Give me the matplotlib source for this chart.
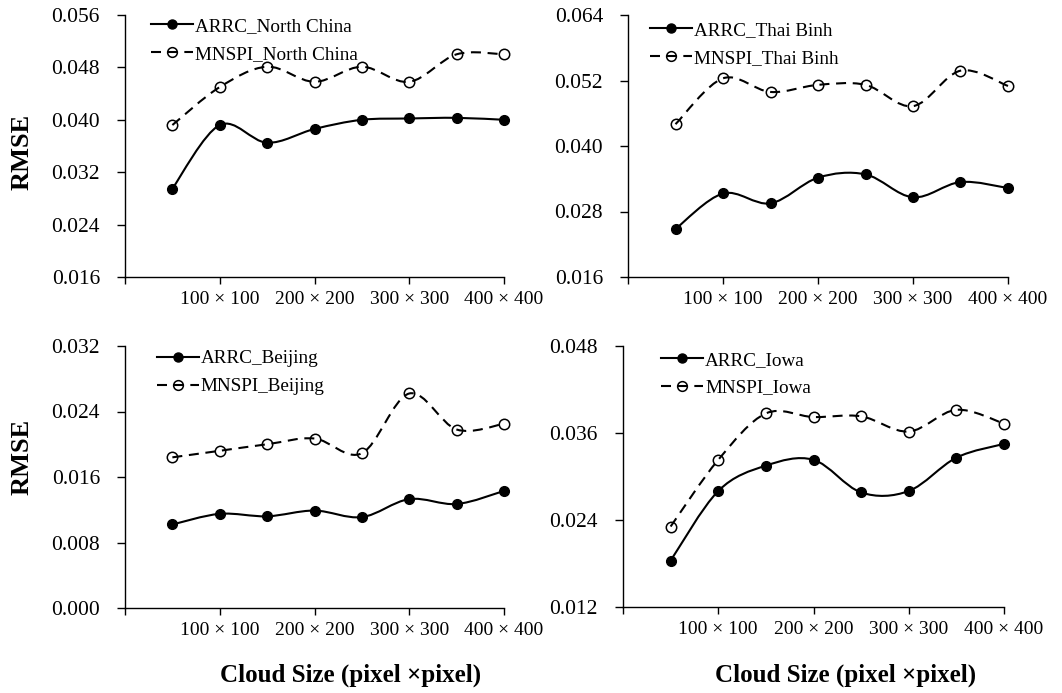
import numpy as np
import matplotlib.pyplot as plt
from matplotlib.path import Path
from matplotlib.patches import PathPatch
from matplotlib.lines import Line2D

plt.rcParams['font.family'] = ['Liberation Serif', 'DejaVu Serif']

sizes = [50, 100, 150, 200, 250, 300, 350, 400]
tick_pos = [0, 100, 200, 300, 400]
tick_labels = ['', '100 × 100', '200 × 200', '300 × 300', '400 × 400']

arrc_north = [0.0295, 0.0392, 0.0365, 0.0386, 0.0400, 0.0402, 0.0403, 0.0400]
mnspi_north = [0.0392, 0.0450, 0.0481, 0.0458, 0.0481, 0.0458, 0.0500, 0.0500]
arrc_thai = [0.0248, 0.0313, 0.0295, 0.0342, 0.0348, 0.0306, 0.0334, 0.0323]
mnspi_thai = [0.0440, 0.0524, 0.0499, 0.0512, 0.0512, 0.0473, 0.0538, 0.0510]
arrc_beijing = [0.0102, 0.0115, 0.0112, 0.0119, 0.0111, 0.0133, 0.0127, 0.0143]
mnspi_beijing = [0.0184, 0.0192, 0.0200, 0.0207, 0.0189, 0.0262, 0.0218, 0.0225]
arrc_iowa = [0.0184, 0.0280, 0.0315, 0.0323, 0.0278, 0.0280, 0.0326, 0.0345]
mnspi_iowa = [0.0231, 0.0323, 0.0387, 0.0382, 0.0383, 0.0362, 0.0392, 0.0373]

regions = ['North China', 'Thai Binh', 'Beijing', 'Iowa']
arrc_all = [arrc_north, arrc_thai, arrc_beijing, arrc_iowa]
mnspi_all = [mnspi_north, mnspi_thai, mnspi_beijing, mnspi_iowa]
yticks_all = [[0.016, 0.024, 0.032, 0.040, 0.048, 0.056],
              [0.016, 0.028, 0.040, 0.052, 0.064],
              [0.000, 0.008, 0.016, 0.024, 0.032],
              [0.012, 0.024, 0.036, 0.048]]

# axes boxes in pixels: left, top, right, bottom
W, H = 1062, 693
boxes = [(125, 15, 504, 277), (628, 15, 1008, 277),
         (125, 346, 504, 608), (623, 346, 1004, 607)]
leg_anchor = [(0.068, 0.99), (0.058, 0.975), (0.084, 0.985), (0.10, 0.98)]


def smooth_path(x, y):
    # excel-like smoothed line through the points
    pts = np.column_stack([x, y])
    n = len(pts)
    verts = [pts[0]]
    codes = [Path.MOVETO]
    for i in range(n - 1):
        p0 = pts[max(i - 1, 0)]
        p1 = pts[i]
        p2 = pts[i + 1]
        p3 = pts[min(i + 2, n - 1)]
        verts += [p1 + (p2 - p0) / 6, p2 - (p3 - p1) / 6, p2]
        codes += [Path.CURVE4] * 3
    return Path(verts, codes)


dash = (0, (4.8, 3.2))
lw = 1.5

fig = plt.figure(figsize=(W / 100, H / 100), dpi=100)
for k in range(4):
    l, t, r, b = boxes[k]
    ax = fig.add_axes([l / W, 1 - b / H, (r - l) / W, (b - t) / H])
    yt = yticks_all[k]
    ax.add_patch(PathPatch(smooth_path(sizes, arrc_all[k]), fill=False,
                           edgecolor='black', lw=lw, zorder=2, clip_on=False))
    ax.add_patch(PathPatch(smooth_path(sizes, mnspi_all[k]), fill=False,
                           edgecolor='black', lw=lw, linestyle=dash, zorder=2, clip_on=False))
    ax.plot(sizes, arrc_all[k], 'o', color='black', ms=7, zorder=3, clip_on=False)
    ax.plot(sizes, mnspi_all[k], 'o', mfc='none', mec='black', mew=1.1, ms=7.5,
            zorder=3, clip_on=False)
    ax.set_xlim(0, 400)
    ax.set_ylim(yt[0], yt[-1])
    ax.set_yticks(yt)
    ax.set_yticklabels(['%.3f' % v for v in yt])
    ax.set_xticks(tick_pos)
    ax.set_xticklabels(tick_labels)
    ax.spines['top'].set_visible(False)
    ax.spines['right'].set_visible(False)
    for s in ['left', 'bottom']:
        ax.spines[s].set_linewidth(1.0)
    ax.tick_params(axis='y', direction='out', length=6, width=1.0, pad=12, labelsize=15.5)
    ax.tick_params(axis='x', direction='out', length=5, width=1.0, pad=5, labelsize=14)
    ax.patch.set_alpha(0)
    h1 = Line2D([], [], color='black', lw=lw, marker='o', ms=6.5)
    h2 = Line2D([], [], color='black', lw=lw, linestyle=dash, marker='o', mfc='none',
                mew=1.1, ms=7)
    ax.legend([h1, h2], ['ARRC_' + regions[k], 'MNSPI_' + regions[k]],
              loc='upper left', bbox_to_anchor=leg_anchor[k], frameon=False,
              fontsize=13.8, numpoints=1, handlelength=2.2, handletextpad=0.1,
              borderpad=0, borderaxespad=0, labelspacing=0.55)

fig.text(22 / W, 1 - 152 / H, 'RMSE', rotation=90, fontsize=19, fontweight='bold',
         ha='center', va='center')
fig.text(22 / W, 1 - 457 / H, 'RMSE', rotation=90, fontsize=19, fontweight='bold',
         ha='center', va='center')
fig.text(351 / W, 1 - 675 / H, 'Cloud Size (pixel \u00d7pixel)', fontsize=18,
         fontweight='bold', ha='center', va='center')
fig.text(846 / W, 1 - 675 / H, 'Cloud Size (pixel \u00d7pixel)', fontsize=18,
         fontweight='bold', ha='center', va='center')

fig.savefig('out.png', dpi=100)
